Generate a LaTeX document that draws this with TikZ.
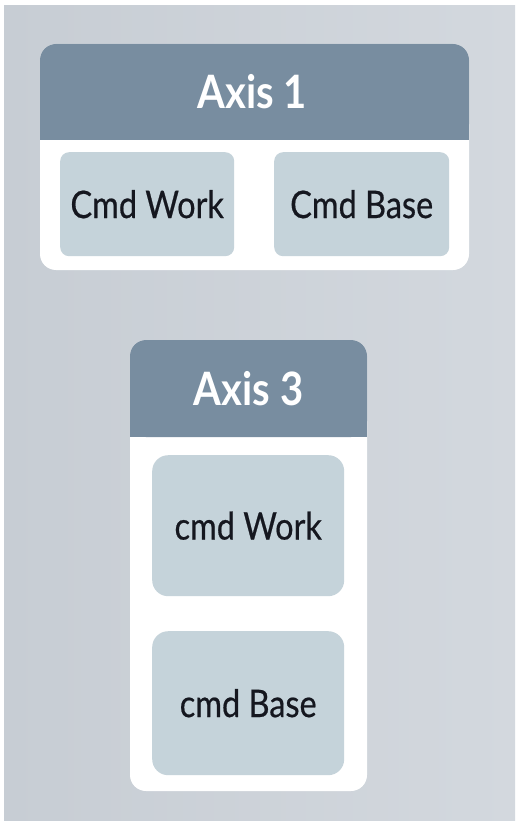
\documentclass[tikz,border=0pt]{standalone}
\usepackage{fontspec}
\setmainfont{Lato}
\newfontfamily\bodyf[FakeStretch=0.855,FakeBold=0.5]{Lato}
\newfontfamily\titlef[FakeStretch=0.87]{Lato}
\definecolor{hdr}{HTML}{788DA0}
\definecolor{inner}{HTML}{C5D3DA}
\definecolor{bgA}{HTML}{C7CDD4}
\definecolor{bgB}{HTML}{D3D8DE}
\definecolor{ink}{HTML}{15171F}
\tikzset{
  card/.style={fill=white, rounded corners=16pt},
  hdrfill/.style={fill=hdr},
  title/.style={text=white, font=\titlef\bfseries\fontsize{46}{50}\selectfont, inner sep=0pt},
  cmdbox/.style={fill=inner, text=ink, font=\bodyf\fontsize{38}{44}\selectfont, inner sep=0pt, anchor=north west},
}
\begin{document}
\begin{tikzpicture}[x=1pt,y=-1pt]
\useasboundingbox (0,0) rectangle (515,821);
\fill[white] (0,0) rectangle (515,821);
\shade[shading=axis, shading angle=160, left color=bgA, right color=bgB] (4,6) rectangle (515,821);
% Axis 1 card
\fill[card] (40,44) rectangle (469,270);
\fill[hdrfill, rounded corners=16pt] (40,44) rectangle (469,140);
\fill[hdrfill] (40,110) rectangle (469,140);
\node[title] (t1) at (252,92) {Axis 1};
\node[cmdbox, rounded corners=9pt, minimum width=174pt, minimum height=104pt] (w1) at (60,152) {Cmd Work};
\node[cmdbox, rounded corners=9pt, minimum width=175pt, minimum height=104pt] (b1) at (274,152) {Cmd Base};
% Axis 3 card
\fill[card] (130,340) rectangle (367,791);
\fill[hdrfill, rounded corners=16pt] (130,340) rectangle (367,437);
\fill[hdrfill] (130,400) rectangle (367,437);
\node[title] (t3) at (248.5,389) {Axis 3};
\node[cmdbox, rounded corners=16pt, minimum width=192pt, minimum height=141pt] (w3) at (152,455) {cmd Work};
\node[cmdbox, rounded corners=16pt, minimum width=192pt, minimum height=144pt] (b3) at (152,631) {cmd Base};
\end{tikzpicture}
\end{document}
